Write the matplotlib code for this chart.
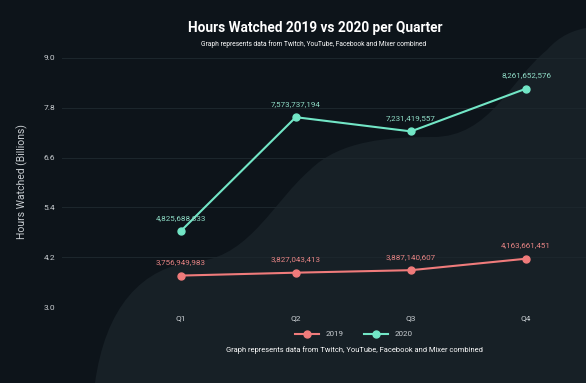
import matplotlib.pyplot as plt
from matplotlib.path import Path
from matplotlib.patches import PathPatch

plt.rcParams['font.family'] = ['Roboto', 'DejaVu Sans']

quarters = ['Q1', 'Q2', 'Q3', 'Q4']
hours_2019 = [3756949983, 3827043413, 3887140607, 4163661451]
hours_2020 = [4825688833, 7573737194, 7231419557, 8261652576]
y_ticks = [3.0, 4.2, 5.4, 6.6, 7.8, 9.0]

bg = '#0d141a'
wave = '#172026'
grid = '#1c262c'
text_col = '#c9ced2'
col_2019 = '#f07b7b'
col_2020 = '#72e6c6'
lab_2019 = '#e88585'
lab_2020 = '#8fdcc6'
W, H = 586, 383

fig = plt.figure(figsize=(W / 100, H / 100), dpi=100, facecolor=bg)

# background wave (figure pixel coords, origin top-left)
pts = [(95, 383),
       (105, 310), (140, 265), (200, 261),
       (250, 255), (275, 200), (310, 170),
       (340, 140), (390, 137), (433, 137),
       (490, 137), (510, 80), (547, 50),
       (560, 35), (575, 30), (586, 28),
       (586, 383), (95, 383)]
codes = [Path.MOVETO] + [Path.CURVE4] * 15 + [Path.LINETO, Path.CLOSEPOLY]
verts = [(x / W, 1 - y / H) for x, y in pts]
fig.patches.append(PathPatch(Path(verts, codes), facecolor=wave, edgecolor='none',
                             transform=fig.transFigure, zorder=-1))

ax = fig.add_axes([62 / W, 1 - 307 / H, 524 / W, 249 / H])
ax.set_facecolor('none')

x = list(range(len(quarters)))
v19 = [v / 1e9 for v in hours_2019]
v20 = [v / 1e9 for v in hours_2020]
ax.plot(x, v19, color=col_2019, lw=1.5, marker='o', ms=5, label='2019', zorder=3)
ax.plot(x, v20, color=col_2020, lw=1.5, marker='o', ms=5, label='2020', zorder=3)

for xi, v, raw in zip(x, v19, hours_2019):
    ax.annotate(f'{raw:,}', (xi, v), xytext=(0, 7.5), textcoords='offset points',
                ha='center', va='bottom', color=lab_2019, fontsize=5.8)
for xi, v, raw in zip(x, v20, hours_2020):
    ax.annotate(f'{raw:,}', (xi, v), xytext=(0, 7.5), textcoords='offset points',
                ha='center', va='bottom', color=lab_2020, fontsize=5.8)

ax.set_xlim(-1.03, 3.52)
ax.set_ylim(3.0, 9.0)
ax.set_yticks(y_ticks)
ax.set_yticklabels([f'{t:.1f}' for t in y_ticks])
ax.set_xticks(x)
ax.set_xticklabels(quarters)
ax.tick_params(length=0, colors=text_col, labelsize=6)
ax.tick_params(axis='y', pad=5)
ax.tick_params(axis='x', pad=6)
ax.grid(axis='y', color=grid, lw=0.8)
for s in ax.spines.values():
    s.set_visible(False)

fig.text(22 / W, 1 - 182 / H, 'Hours Watched (Billions)', rotation=90, ha='center',
         va='center', color=text_col, fontsize=7.5)

fig.text(315 / W, 1 - 28 / H, 'Hours Watched 2019 vs 2020 per Quarter', ha='center',
         va='center', color='white', fontsize=9.8, fontweight='bold')
fig.text(314 / W, 1 - 44 / H, 'Graph represents data from Twitch, YouTube, Facebook and Mixer combined',
         ha='center', va='center', color='white', fontsize=4.75)
fig.text(354 / W, 1 - 350 / H, 'Graph represents data from Twitch, YouTube, Facebook and Mixer combined',
         ha='center', va='center', color='white', fontsize=5.4)

leg = fig.legend(loc='center', bbox_to_anchor=(354 / W, 1 - 334 / H), ncol=2, frameon=False,
                 fontsize=5.8, labelcolor=text_col, handlelength=3, columnspacing=2.5)

fig.savefig('out.png', dpi=100, facecolor=bg)
